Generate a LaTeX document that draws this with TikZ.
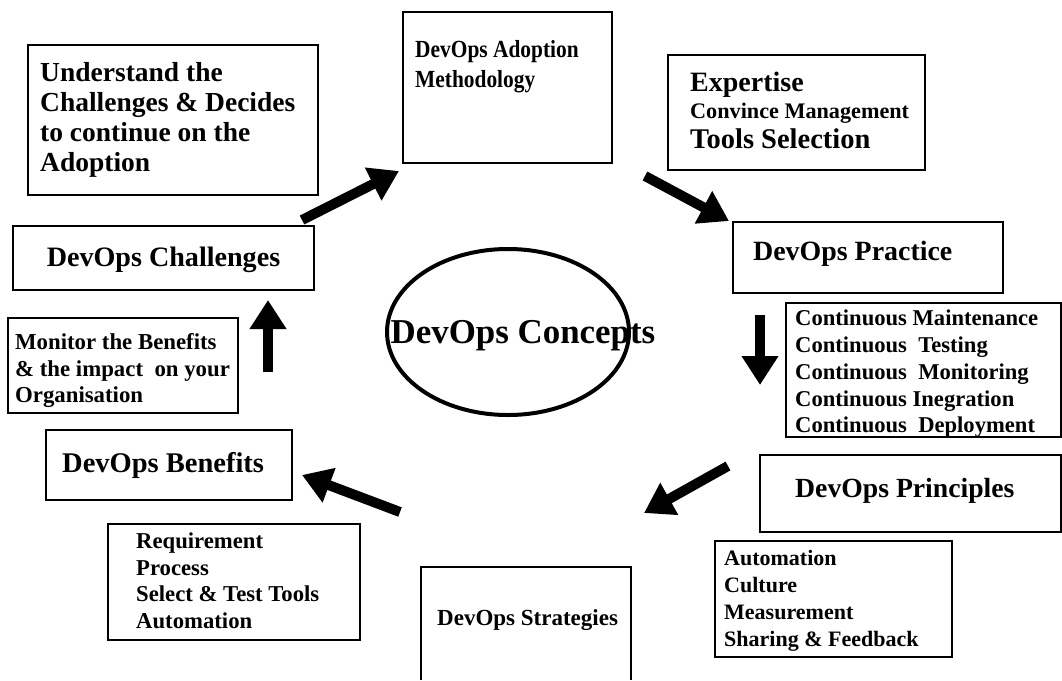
\documentclass[tikz,border=0pt]{standalone}
\usepackage{fontspec}
\setmainfont{Liberation Serif}
\newfontfamily\condA[FakeStretch=0.87]{Liberation Serif}
\usetikzlibrary{arrows.meta,shapes.geometric}
\tikzset{
  box/.style={draw=black, line width=1.3pt},
  txt/.style={inner sep=0pt, align=left, anchor=north west, text=black},
  lbl/.style={inner sep=0pt, anchor=base west, text=black},
  bigarrow/.style={line width=10pt, -{Triangle[width=35pt,length=29pt]}},
}
\newcommand{\fs}[2]{\bfseries\fontsize{#1}{#2}\selectfont}
\begin{document}
\begin{tikzpicture}[x=1pt,y=-1pt]
\useasboundingbox (0,0) rectangle (1062,680);
% boxes
\draw[box] (28,45) rectangle (318,195);
\draw[box] (403,12) rectangle (612,163);
\draw[box] (668,55) rectangle (925,170);
\draw[box] (733,222) rectangle (1003,293);
\draw[box] (786,303) rectangle (1061,437);
\draw[box] (760,455) rectangle (1061,532);
\draw[box] (715,541) rectangle (952,657);
\draw[box] (421,680) -- (421,567) -- (631,567) -- (631,680);
\draw[box] (108,524) rectangle (360,640);
\draw[box] (46,430) rectangle (292,500);
\draw[box] (8,318) rectangle (238,413);
\draw[box] (13,226) rectangle (314,290);
% ellipse
\node[draw, line width=4pt, ellipse, minimum width=242pt, minimum height=166pt, inner sep=0pt] (concepts) at (508,332) {};
\node[inner sep=0pt, anchor=base, text=black, font=\fs{34.9}{40}] (concl) at (523,343) {DevOps Concepts};
% texts
\node[txt, font=\fs{27.5}{30}] (underst) at (40,62) {Understand the\\Challenges \& Decides\\to continue on the\\Adoption};
\node[txt, font={\condA\fs{24.6}{30}}] (adopt) at (415,40) {DevOps Adoption\\Methodology};
\node[lbl, font=\fs{28}{30}] (exp1) at (690,91) {Expertise};
\node[lbl, font=\fs{22.2}{26}] (exp2) at (690,118) {Convince Management};
\node[lbl, font=\fs{28.5}{30}] (exp3) at (690,148) {Tools Selection};
\node[lbl, font=\fs{27.9}{30}] (practice) at (753,260) {DevOps Practice};
\node[txt, font=\fs{22.6}{26.75}] (cont) at (795,310) {Continuous Maintenance\\Continuous\ \ Testing\\Continuous\ \ Monitoring\\Continuous Inegration\\Continuous\ \ Deployment};
\node[lbl, font=\fs{27.7}{30}] (princ) at (795,497) {DevOps Principles};
\node[txt, font=\fs{22}{27}] (princl) at (724,550) {Automation\\Culture\\Measurement\\Sharing \& Feedback};
\node[lbl, font=\fs{23}{26}] (strat) at (437,625) {DevOps Strategies};
\node[txt, font=\fs{22.7}{26.7}] (req) at (136,532.5) {Requirement\\Process\\Select \& Test Tools\\Automation};
\node[lbl, font=\fs{28.5}{30}] (benef) at (62,472) {DevOps Benefits};
\node[txt, font=\fs{22.8}{26.5}] (monit) at (15,333.5) {Monitor the Benefits\\\& the impact\ \ on your\\Organisation};
\node[inner sep=0pt, anchor=base, text=black, font=\fs{28.1}{30}] (chall) at (163.5,266) {DevOps Challenges};
% arrow anchors
\coordinate (a1s) at (302,220); \coordinate (a1e) at (399,171);
\coordinate (a2s) at (645,176); \coordinate (a2e) at (729,221);
\coordinate (a3s) at (760,315); \coordinate (a3e) at (760,385);
\coordinate (a4s) at (728,466); \coordinate (a4e) at (644,513);
\coordinate (a5s) at (400,512); \coordinate (a5e) at (302,475);
\coordinate (a6s) at (268,372); \coordinate (a6e) at (268,300);
\draw[bigarrow] (a1s) -- (a1e);
\draw[bigarrow] (a2s) -- (a2e);
\draw[bigarrow] (a3s) -- (a3e);
\draw[bigarrow] (a4s) -- (a4e);
\draw[bigarrow] (a5s) -- (a5e);
\draw[bigarrow] (a6s) -- (a6e);
\end{tikzpicture}
\end{document}
